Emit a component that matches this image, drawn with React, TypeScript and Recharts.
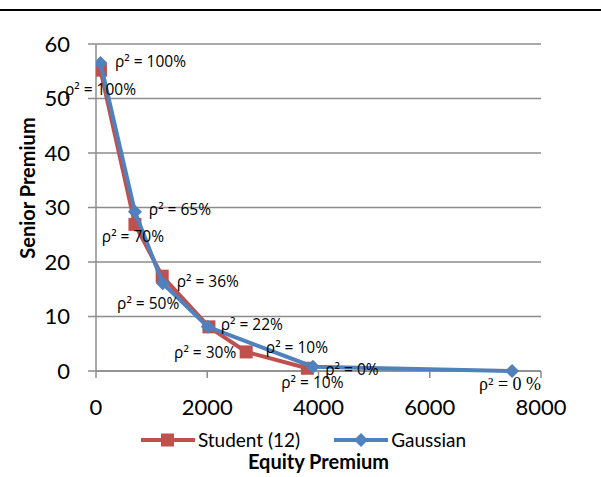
import React from 'react';
import { CartesianGrid, LabelList, Legend, Line, LineChart, XAxis, YAxis } from 'recharts';

const studentX = [80, 700, 1190, 2030, 2700, 3800];
const studentY = [55.2, 26.9, 17.4, 8.1, 3.5, 0.5];
const studentLabels = ['ρ² = 100%', 'ρ² = 70%', 'ρ² = 50%', '', 'ρ² = 30%', 'ρ² = 10%'];

const gaussianX = [80, 700, 1200, 2010, 3900, 7480];
const gaussianY = [56.5, 29.2, 16.1, 8.1, 0.8, 0];
const gaussianLabels = ['ρ² = 100%', 'ρ² = 65%', 'ρ² = 36%', 'ρ² = 22%', 'ρ² = 0%', 'ρ² = 0 %'];
const gaussianExtraLabels = ['', '', '', '', 'ρ² = 10%', ''];

const xTicks = [0, 2000, 4000, 6000, 8000];
const yTicks = [0, 10, 20, 30, 40, 50, 60];

const seriesNames = ['Student (12)', 'Gaussian'];

// label centre offsets from the point, in px
const studentOffsets = [[0, 19], [-2, 12], [-14, 27], [0, 0], [-41, 0], [5, 14]];
const gaussianOffsets = [[50, -2], [45, -3], [45, -2], [44, -3], [39, 2], [-2, 13]];
const gaussianExtraOffsets = [[0, 0], [0, 0], [0, 0], [0, 0], [-16, -20], [0, 0]];

const RED = '#C0504D';
const BLUE = '#4F81BD';
const GRID = '#8C8C8C';
const FONT = 'Lato, "Open Sans", sans-serif';
const LABEL_FONT = '"Open Sans", Lato, sans-serif';

const studentData = studentX.map((x, i) => ({ x, y: studentY[i], label: studentLabels[i] }));
const gaussianData = gaussianX.map((x, i) => ({ x, y: gaussianY[i], label: gaussianLabels[i] }));
const gaussianExtraData = gaussianX.map((x, i) => ({ x, y: gaussianY[i], label: gaussianExtraLabels[i] }));

const SquareDot = (p: any) => {
  if (p.cx == null || p.cy == null) return <g key={p.index} />;
  return <rect key={p.index} x={p.cx - 6.5} y={p.cy - 6.5} width={13} height={13} fill={RED} />;
};

const DiamondDot = (p: any) => {
  if (p.cx == null || p.cy == null) return <g key={p.index} />;
  const r = 7;
  return (
    <polygon
      key={p.index}
      points={`${p.cx},${p.cy - r} ${p.cx + r},${p.cy} ${p.cx},${p.cy + r} ${p.cx - r},${p.cy}`}
      fill={BLUE}
    />
  );
};

const makeLabel = (offsets: number[][]) => (p: any) => {
  const x = p.x ?? p.viewBox?.x;
  const y = p.y ?? p.viewBox?.y;
  const text = p.value;
  if (!text || x == null || y == null) return null;
  const [dx, dy] = offsets[p.index] ?? [0, 0];
  const serif = text === 'ρ² = 0 %';
  return (
    <text
      x={x + dx}
      y={y + dy}
      textAnchor="middle"
      dominantBaseline="central"
      fontSize={serif ? 18 : 15.5}
      fontFamily={serif ? '"Liberation Serif", serif' : LABEL_FONT}
      fill="#000"
    >
      {text}
    </text>
  );
};

const renderLegend = (props: any) => {
  const items = seriesNames
    .map((n) => (props.payload ?? []).find((e: any) => e.value === n))
    .filter(Boolean);
  return (
    <div
      style={{
        display: 'flex',
        justifyContent: 'center',
        gap: 34,
        fontFamily: FONT,
        fontSize: 19,
        color: '#000',
        paddingLeft: 6,
      }}
    >
      {items.map((e: any) => {
        const red = e.value === seriesNames[0];
        return (
          <div key={e.value} style={{ display: 'flex', alignItems: 'center' }}>
            <svg width={54} height={16}>
              <line x1={0} y1={8} x2={54} y2={8} stroke={red ? RED : BLUE} strokeWidth={4} />
              {red ? (
                <rect x={20} y={1.5} width={13} height={13} fill={RED} />
              ) : (
                <polygon points="27,1 34,8 27,15 20,8" fill={BLUE} />
              )}
            </svg>
            <span style={{ marginLeft: 3 }}>{e.value}</span>
          </div>
        );
      })}
    </div>
  );
};

const YTitle = (p: any) => {
  const cx = 27;
  const cy = 188;
  return (
    <text
      x={cx}
      y={cy}
      transform={`rotate(-90, ${cx}, ${cy})`}
      textAnchor="middle"
      dominantBaseline="central"
      fontFamily={FONT}
      fontWeight="bold"
      fontSize={20}
      fill="#000"
    >
      Senior Premium
    </text>
  );
};

export default function App() {
  return (
    <div style={{ position: 'absolute', left: 0, top: 0, width: 601, height: 477, background: '#fff' }}>
      <div style={{ position: 'absolute', left: 0, top: 9, width: 601, height: 2, background: '#000' }} />
      <LineChart width={601} height={477} margin={{ top: 44, right: 60, bottom: 6, left: 0 }}>
        <CartesianGrid horizontal vertical={false} stroke={GRID} strokeWidth={1.5} />
        <XAxis
          type="number"
          dataKey="x"
          domain={[0, 8000]}
          ticks={xTicks}
          allowDataOverflow
          height={100}
          stroke={GRID}
          strokeWidth={1.5}
          tickSize={7}
          tickMargin={21}
          tick={{ fill: '#000', fontSize: 22, fontFamily: FONT }}
          label={{
            value: 'Equity Premium',
            position: 'insideBottom',
            offset: 2,
            fill: '#000',
            fontSize: 20,
            fontWeight: 'bold',
            fontFamily: FONT,
          }}
        />
        <YAxis
          type="number"
          dataKey="y"
          domain={[0, 60]}
          ticks={yTicks}
          width={96}
          stroke={GRID}
          strokeWidth={1.5}
          tickSize={8}
          tickMargin={18}
          tick={{ fill: '#000', fontSize: 22, fontFamily: FONT }}
          label={{ content: YTitle }}
        />
        <Legend
          layout="horizontal"
          verticalAlign="middle"
          align="center"
          content={renderLegend}
          wrapperStyle={{ top: 428, left: 0, width: 601 }}
        />
        <Line
          data={studentData}
          dataKey="y"
          name={seriesNames[0]}
          stroke={RED}
          strokeWidth={4}
          dot={SquareDot}
          activeDot={false}
          isAnimationActive={false}
        />
        <Line
          data={gaussianData}
          dataKey="y"
          name={seriesNames[1]}
          stroke={BLUE}
          strokeWidth={4}
          dot={DiamondDot}
          activeDot={false}
          isAnimationActive={false}
          {...({ zIndex: 700 } as any)}
        />
        <Line
          data={studentData}
          dataKey="y"
          name="student-labels"
          legendType="none"
          stroke="none"
          dot={false}
          activeDot={false}
          isAnimationActive={false}
        >
          <LabelList dataKey="label" content={makeLabel(studentOffsets)} />
        </Line>
        <Line
          data={gaussianData}
          dataKey="y"
          name="gaussian-labels"
          legendType="none"
          stroke="none"
          dot={false}
          activeDot={false}
          isAnimationActive={false}
        >
          <LabelList dataKey="label" content={makeLabel(gaussianOffsets)} />
        </Line>
        <Line
          data={gaussianExtraData}
          dataKey="y"
          name="gaussian-extra-labels"
          legendType="none"
          stroke="none"
          dot={false}
          activeDot={false}
          isAnimationActive={false}
        >
          <LabelList dataKey="label" content={makeLabel(gaussianExtraOffsets)} />
        </Line>
      </LineChart>
    </div>
  );
}
